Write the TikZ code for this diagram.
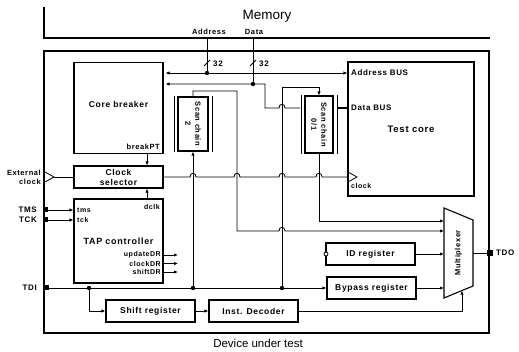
\documentclass[tikz,border=0pt]{standalone}
\usepackage{fontspec}
\setmainfont{Liberation Sans}
\newfontfamily\lb[LetterSpace=8]{Liberation Sans}
\usetikzlibrary{arrows.meta}
\tikzset{
  >={Latex[length=4pt,width=3.4pt]},
  wire/.style={line width=0.8pt},
  blk/.style={draw, line width=1.1pt, fill=white, inner sep=0pt},
  blabel/.style={font=\lb\bfseries\fontsize{8.5}{10}\selectfont, inner sep=0pt, align=center},
  slabel/.style={font=\lb\bfseries\fontsize{7}{8}\selectfont, inner sep=0pt},
  plabel/.style={font=\lb\bfseries\fontsize{7.5}{9}\selectfont, inner sep=0pt},
  pinlabel/.style={font=\lb\bfseries\fontsize{8}{9}\selectfont, inner sep=0pt},
  dot/.style={circle, fill=black, inner sep=0pt, minimum size=4.4pt},
  pad/.style={fill=black, inner sep=0pt, minimum size=5pt},
  border/.style={line width=2pt},
}
\begin{document}
\begin{tikzpicture}[x=1pt,y=-1pt]
\useasboundingbox (0,0) rectangle (519,352);
% memory
\draw[border] (44,7) -- (44,38) -- (490,38);
\node[font=\fontsize{13.5}{15}\selectfont, inner sep=0pt] (memlbl) at (267,16) {Memory};
\node[plabel] (addrlbl) at (209,32) {Address};
\node[plabel] (datalbl) at (254,32) {Data};
% DUT border
\draw[border] (44,51) rectangle (489,333);
\node[font=\fontsize{11.5}{13}\selectfont, inner sep=0pt] (dutlbl) at (258,343) {Device under test};

% blocks
\node[blk, minimum width=89pt, minimum height=91pt] (core) at (118.5,108) {};
\node[blabel] (corelbl) at (118.5,104) {Core breaker};
\node[plabel, anchor=east] (bpt) at (160,147) {breakPT};

\node[blk, minimum width=89pt, minimum height=22pt] (clksel) at (118.5,177) {};
\node[blabel] (clksellbl) at (118.5,177) {Clock\\selector};

\node[blk, minimum width=89pt, minimum height=84pt] (tap) at (118.5,241) {};
\node[blabel, font=\lb\bfseries\fontsize{9}{10}\selectfont] (taplbl) at (118.5,241) {TAP controller};
\node[slabel, anchor=west] (tmsi) at (77,210) {tms};
\node[slabel, anchor=west] (tcki) at (77,220) {tck};
\node[slabel, anchor=east] (dclk) at (160,207) {dclk};
\node[slabel, anchor=east] (upd) at (161,255) {updateDR};
\node[slabel, anchor=east] (ckd) at (161,263.5) {clockDR};
\node[slabel, anchor=east] (shd) at (161,272) {shiftDR};

\node[blk, minimum width=30pt, minimum height=54pt] (sc2) at (193,124) {};
\node[blabel, font=\lb\bfseries\fontsize{7.5}{10}\selectfont, rotate=-90] (sc2lbl) at (193,124) {Scan chain\\2};
\node[blk, minimum width=28pt, minimum height=57pt] (sc01) at (319,124.5) {};
\node[blabel, font=\lb\bfseries\fontsize{7.5}{10}\selectfont, rotate=-90] (sc01lbl) at (319,124.5) {Scan chain\\0/1};
% bars beside scan chains
\draw[wire] (174,96) -- (174,152) (212,96) -- (212,152);
\draw[wire] (301,95) -- (301,154) (337,95) -- (337,154);

\node[blk, minimum width=126pt, minimum height=134pt] (tc) at (411,129) {};
\node[pinlabel, anchor=west] (abus) at (351,73) {Address BUS};
\node[pinlabel, anchor=west] (dbus) at (351,108) {Data BUS};
\node[blabel, font=\lb\bfseries\fontsize{9.5}{11}\selectfont] (tclbl) at (411,129) {Test core};
\draw[wire] (348,172) -- (357,177) -- (348,182);
\node[slabel, anchor=west] (clklbl) at (351,186) {clock};

\node[blk, blabel, minimum width=89pt, minimum height=22pt] (idr) at (370.5,254) {ID register};
\node[blk, blabel, minimum width=89pt, minimum height=22pt] (byp) at (371.5,288) {Bypass register};
\node[blk, blabel, minimum width=89pt, minimum height=22pt] (shr) at (150.5,311) {Shift register};
\node[blk, blabel, minimum width=89pt, minimum height=22pt] (dec) at (253.5,311) {Inst. Decoder};
\node[draw, circle, wire, fill=white, inner sep=0pt, minimum size=4pt] (idc) at (326,254) {};

% multiplexer
\draw[line width=1.1pt, fill=white] (444,208) -- (473,220) -- (473,286) -- (444,298) -- cycle;
\node[blabel, font=\lb\bfseries\fontsize{7.5}{9}\selectfont, rotate=90] (mux) at (458.5,253) {Multiplexer};
\coordinate (mi1) at (444,221);
\coordinate (mi2) at (444,231);
\coordinate (mi3) at (444,254);
\coordinate (mi4) at (444,288);
\coordinate (mibot) at (462,290.6);
\coordinate (mo) at (473,253);

% pins
\node[pad] (tmssq) at (45,210) {};
\node[pad] (tcksq) at (45,220) {};
\node[pad] (tdisq) at (46,288) {};
\node[pad, minimum size=6pt] (tdosq) at (490,253) {};
\node[pinlabel, anchor=east] (tmsl) at (37,210) {TMS};
\node[pinlabel, anchor=east] (tckl) at (37,220) {TCK};
\node[pinlabel, anchor=east] (tdil) at (37,288) {TDI};
\node[pinlabel, anchor=west] (tdol) at (496,253) {TDO};
\node[plabel, align=right, anchor=east] (extl) at (41,177) {External\\clock};
\draw[wire] (45,172) -- (54,177) -- (45,182);
\coordinate (exttip) at (54,177);

% memory buses
\coordinate (adot) at (207,73);
\coordinate (ddot) at (253,84);
\draw[wire] (207,38) -- (adot);
\draw[wire] (253,38) -- (ddot);
\draw[wire] (204,66) -- (210,60);
\draw[wire] (250,66) -- (256,60);
\node[pinlabel, anchor=west] (n32a) at (213,64) {32};
\node[pinlabel, anchor=west] (n32b) at (259,64) {32};
\draw[wire,<->,shorten <=2pt] (core.east |- adot) -- (tc.west |- adot);
\draw[wire,<-,shorten <=2pt] (core.east |- ddot) -- (ddot) -- (265,84) -- (265,108) -- (279,108) .. controls (279,103) and (285,103) .. (285,108) -- (300,108);
\node[dot] (adotn) at (adot) {};
\node[dot] (ddotn) at (ddot) {};
\draw[line width=2.2pt] (337,108) -- (tc.west |- 0,108);

% clock
\draw[wire] (exttip) -- (clksel.west);
\draw[wire] (clksel.east) -- (190,177) .. controls (190,172) and (196,172) .. (196,177)
  -- (234,177) .. controls (234,172) and (240,172) .. (240,177)
  -- (279,177) .. controls (279,172) and (285,172) .. (285,177)
  -- (316,177) .. controls (316,172) and (322,172) .. (322,177) -- (348,177);
\draw[wire,->] (core.south -| 147,0) -- (clksel.north -| 147,0);
\draw[wire,->] (tap.north -| 147,0) -- (clksel.south -| 147,0);

% TAP inputs/outputs
\draw[wire,->] (tmssq) -- (tap.west |- tmssq);
\draw[wire,->] (tcksq) -- (tap.west |- tcksq);
\foreach \yy in {255,263.5,272} {\draw[wire,->] (163,\yy) -- (178,\yy);}

% TDI
\coordinate (t89) at (89,288);
\coordinate (t193) at (193,288);
\coordinate (t282) at (282,288);
\draw[wire,->] (tdisq) -- (byp.west);
\draw[wire,->] (t89) |- (shr.west);
\draw[wire,->] (t193) -- (sc2.south);
\draw[wire,->] (t282) -- (282,87) -| (sc01.north);
\node[dot] at (t89) {};
\node[dot] at (t193) {};
\node[dot] at (t282) {};

% scan outputs
\draw[wire,->] (sc2.north) -- (193,91) -- (237,91) -- (237,231) -- (279,231) .. controls (279,226) and (285,226) .. (285,231) -- (mi2);
\draw[wire,->] (sc01.south) |- (mi1);
\draw[wire,->] (idr.east) -- (mi3);
\draw[wire,->] (byp.east) -- (mi4);
\draw[wire,->] (shr.east) -- (dec.west);
\draw[wire,->] (dec.east) -| (mibot);
\draw[wire] (mo) -- (tdosq);
\end{tikzpicture}
\end{document}
